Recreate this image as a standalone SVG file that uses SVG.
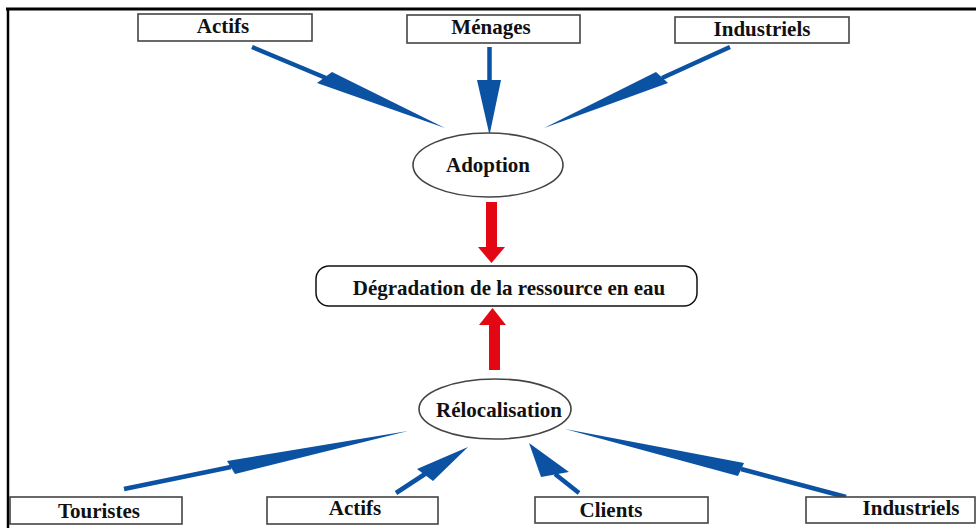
<svg xmlns="http://www.w3.org/2000/svg" width="976" height="528" viewBox="0 0 976 528">
<style>
text{font-family:"Liberation Serif","Times New Roman",serif;font-weight:bold;font-size:21px;fill:#111;text-anchor:middle}
.box{fill:#fff;stroke:#444;stroke-width:1.6}
.ell{fill:#fff;stroke:#444;stroke-width:1.6}
.bs{stroke:#0b52a3;stroke-width:4.5;fill:none}
.bh{fill:#0b52a3}
.red{fill:#e30613}
.frame{stroke:#000;fill:none}
</style>
<rect width="976" height="528" fill="#fff"/>
<line class="frame" x1="6" y1="9" x2="976" y2="9" stroke-width="3"/>
<line class="frame" x1="8" y1="8" x2="8" y2="528" stroke-width="2.5"/>

<g id="connectors">
  <g id="c-actifs-top"><line class="bs" x1="252" y1="47" x2="326" y2="78"/><polygon class="bh" points="332,72 445,128 317,83"/></g>
  <g id="c-menages"><line class="bs" x1="489.5" y1="47" x2="489.5" y2="82"/><polygon class="bh" points="477,80 501,80 489.5,135"/></g>
  <g id="c-industriels-top"><line class="bs" x1="730" y1="47" x2="662" y2="78"/><polygon class="bh" points="656,72 544,128 668,83"/></g>
  <g id="c-adoption-degradation"><rect class="red" x="486" y="202" width="11" height="47"/><polygon class="red" points="478,247 505,247 491.5,263"/></g>
  <g id="c-relocalisation-degradation"><rect class="red" x="489" y="323" width="11" height="47"/><polygon class="red" points="479,325 506,325 492.5,308"/></g>
  <g id="c-touristes"><line class="bs" x1="124" y1="489" x2="231" y2="467"/><polygon class="bh" points="227,461 408,431 235,474"/></g>
  <g id="c-actifs-bottom"><line class="bs" x1="396" y1="493" x2="425" y2="474"/><polygon class="bh" points="417,469 468,447 433,481"/></g>
  <g id="c-clients"><line class="bs" x1="579" y1="493" x2="555" y2="474"/><polygon class="bh" points="541,477 529,443 569,472"/></g>
  <g id="c-industriels-bottom"><line class="bs" x1="846" y1="497" x2="741" y2="469"/><polygon class="bh" points="744,463 565,429 738,476"/></g>
</g>

<g id="n-actifs-top"><rect class="box" x="138" y="14" width="174" height="27"/><text x="223" y="33">Actifs</text></g>
<g id="n-menages"><rect class="box" x="407" y="15" width="173" height="28"/><text x="491" y="34">Ménages</text></g>
<g id="n-industriels-top"><rect class="box" x="675" y="17" width="174" height="26"/><text x="762" y="36">Industriels</text></g>
<g id="n-adoption"><ellipse class="ell" cx="488" cy="165" rx="75" ry="32"/><text x="488" y="172">Adoption</text></g>
<g id="n-degradation"><rect x="316" y="266" width="381" height="40" rx="13" fill="#fff" stroke="#111" stroke-width="1.5"/><text x="509" y="295">Dégradation de la ressource en eau</text></g>
<g id="n-relocalisation"><ellipse class="ell" cx="495" cy="409" rx="76" ry="30"/><text x="499" y="417">Rélocalisation</text></g>
<g id="n-touristes"><rect class="box" x="10" y="497" width="172" height="27"/><text x="99" y="518">Touristes</text></g>
<g id="n-actifs-bottom"><rect class="box" x="267" y="497" width="171" height="27"/><text x="355" y="515">Actifs</text></g>
<g id="n-clients"><rect class="box" x="535" y="497" width="173" height="26"/><text x="611" y="517">Clients</text></g>
<g id="n-industriels-bottom"><rect class="box" x="806" y="497" width="169" height="26"/><text x="911" y="515">Industriels</text></g>
</svg>
